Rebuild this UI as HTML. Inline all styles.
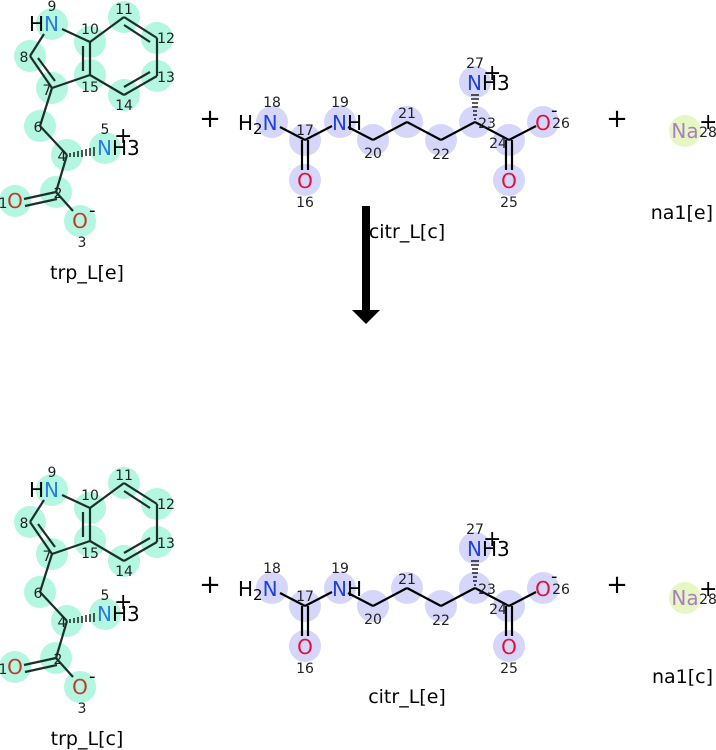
<!DOCTYPE html>
<html><head><meta charset="utf-8"><style>
html,body{margin:0;padding:0;background:#fff}
svg{display:block}
text{font-family:"DejaVu Sans","Liberation Sans",sans-serif}
.n{font-size:14px;fill:#222;text-anchor:middle}
.a{font-size:20px;text-anchor:middle}
.lb{font-size:19px;fill:#000;text-anchor:middle}
.pl{font-size:26px;fill:#000;text-anchor:middle}
.b{stroke:#1a3028;stroke-width:2.2;fill:none}
.c{stroke:#000;stroke-width:2.2;fill:none}
.t{fill:#b3f7e0}
.p{fill:#d6d6fa}
</style></head><body>
<svg width="716" height="750" viewBox="0 0 716 750" xmlns="http://www.w3.org/2000/svg">

<g>
<g class="t">
<circle cx="52" cy="24" r="16"/><circle cx="90" cy="42" r="16"/><circle cx="124" cy="17" r="16"/><circle cx="157" cy="38" r="16"/><circle cx="157" cy="76" r="16"/><circle cx="124" cy="95" r="16"/><circle cx="90" cy="75" r="16"/><circle cx="52" cy="88" r="16"/><circle cx="30" cy="56" r="16"/><circle cx="40" cy="126" r="16"/><circle cx="67" cy="155" r="16"/><circle cx="105" cy="148" r="16"/><circle cx="56" cy="192" r="16"/><circle cx="15" cy="201" r="16"/><circle cx="80" cy="221" r="16"/>
</g>
<g class="b">
<line x1="44" y1="34" x2="30" y2="56"/>
<line x1="62" y1="29" x2="90" y2="42"/>
<line x1="90" y1="42" x2="90" y2="75"/><line x1="83" y1="46" x2="83" y2="71"/>
<line x1="90" y1="75" x2="52" y2="88"/>
<line x1="30" y1="56" x2="52" y2="88"/><line x1="38" y1="58" x2="55" y2="81"/>
<line x1="90" y1="42" x2="124" y2="17"/>
<line x1="124" y1="17" x2="157" y2="38"/><line x1="124" y1="25" x2="150" y2="42"/>
<line x1="157" y1="38" x2="157" y2="76"/>
<line x1="157" y1="76" x2="124" y2="95"/><line x1="150" y1="72" x2="124" y2="87"/>
<line x1="124" y1="95" x2="90" y2="75"/>
<line x1="52" y1="88" x2="40" y2="126"/>
<line x1="40" y1="126" x2="67" y2="155"/>
<line x1="67" y1="155" x2="56" y2="192"/>
<line x1="56" y1="192" x2="24" y2="199"/><line x1="57" y1="199" x2="25" y2="206"/>
<line x1="56" y1="192" x2="73" y2="211"/>
</g>
<g stroke="#000" stroke-width="1.3">
<line x1="70" y1="153" x2="70" y2="157"/><line x1="74" y1="152" x2="74" y2="157"/><line x1="78" y1="151" x2="78" y2="157"/><line x1="82" y1="150" x2="82" y2="157"/><line x1="86" y1="149" x2="86" y2="156"/><line x1="90" y1="148" x2="90" y2="156"/><line x1="94" y1="147" x2="94" y2="156"/>
</g>
<text x="29" y="31" font-size="20"><tspan fill="#000">H</tspan><tspan fill="#2a7de0">N</tspan></text>
<text x="97" y="155" font-size="20" fill="#2a7de0">N<tspan fill="#000">H3</tspan></text>
<text x="114" y="143" font-size="22">+</text>
<text x="15" y="208" class="a" fill="#c0392b">O</text>
<text x="80" y="228" class="a" fill="#c0392b">O</text>
<text x="89" y="216" font-size="18">-</text>
<g class="n">
<text x="52" y="11">9</text><text x="90" y="34">10</text><text x="124" y="14">11</text><text x="166" y="43">12</text><text x="166" y="82">13</text><text x="124" y="110">14</text><text x="90" y="92">15</text><text x="47" y="95">7</text><text x="24" y="62">8</text><text x="38" y="132">6</text><text x="62" y="161">4</text><text x="105" y="134">5</text><text x="58" y="198">2</text><text x="3" y="208">1</text><text x="82" y="247">3</text>
</g>
</g>

<g>
<g class="p">
<circle cx="272" cy="122" r="16"/><circle cx="305" cy="140" r="16"/><circle cx="305" cy="180" r="16"/><circle cx="340" cy="122" r="16"/><circle cx="373" cy="140" r="16"/><circle cx="407" cy="122" r="16"/><circle cx="441" cy="140" r="16"/><circle cx="475" cy="122" r="16"/><circle cx="475" cy="82" r="16"/><circle cx="509" cy="140" r="16"/><circle cx="509" cy="180" r="16"/><circle cx="543" cy="122" r="16"/>
</g>
<g class="c">
<line x1="280" y1="127" x2="305" y2="140"/><line x1="305" y1="140" x2="332" y2="126"/>
<line x1="302" y1="140" x2="302" y2="170"/><line x1="308" y1="140" x2="308" y2="170"/>
<line x1="348" y1="127" x2="373" y2="140"/><line x1="373" y1="140" x2="407" y2="122"/><line x1="407" y1="122" x2="441" y2="140"/><line x1="441" y1="140" x2="475" y2="122"/><line x1="475" y1="122" x2="509" y2="140"/>
<line x1="506" y1="140" x2="506" y2="170"/><line x1="512" y1="140" x2="512" y2="170"/>
<line x1="509" y1="140" x2="536" y2="126"/>
</g>
<g stroke="#000" stroke-width="1.3">
<line x1="474" y1="119" x2="476" y2="119"/><line x1="473" y1="115" x2="477" y2="115"/><line x1="473" y1="111" x2="477" y2="111"/><line x1="472" y1="107" x2="478" y2="107"/><line x1="472" y1="103" x2="478" y2="103"/><line x1="471" y1="99" x2="479" y2="99"/><line x1="471" y1="95" x2="479" y2="95"/>
</g>
<text x="238" y="130" font-size="20">H<tspan font-size="15" dy="4">2</tspan><tspan fill="#2040e0" dy="-4">N</tspan></text>
<text x="332" y="130" font-size="20"><tspan fill="#2040e0">N</tspan>H</text>
<text x="467" y="90" font-size="20"><tspan fill="#2040e0">N</tspan>H3</text>
<text x="483" y="80" font-size="22">+</text>
<text x="305" y="188" class="a" fill="#e0103a">O</text>
<text x="509" y="188" class="a" fill="#e0103a">O</text>
<text x="543" y="130" class="a" fill="#e0103a">O</text>
<text x="551" y="116" font-size="18">-</text>
<g class="n">
<text x="272" y="107">18</text><text x="305" y="135">17</text><text x="305" y="207">16</text><text x="340" y="107">19</text><text x="373" y="158">20</text><text x="407" y="118">21</text><text x="441" y="159">22</text><text x="487" y="128">23</text><text x="498" y="148">24</text><text x="509" y="207">25</text><text x="561" y="128">26</text><text x="475" y="68">27</text>
</g>
</g>

<circle cx="685" cy="131" r="16" fill="#e6f7c4"/>
<text x="685" y="138" class="a" fill="#a97fbf">Na</text>
<text x="708" y="137" class="n">28</text>
<text x="699" y="129" font-size="22">+</text>

<text x="210" y="127" class="pl">+</text>
<text x="617" y="127" class="pl">+</text>
<text x="87" y="279" class="lb">trp_L[e]</text>
<text x="407" y="238" class="lb">citr_L[c]</text>
<text x="713" y="219" class="lb" style="text-anchor:end">na1[e]</text>

<rect x="362" y="206" width="8" height="106" fill="#000"/>
<polygon points="352,310 380,310 366,324" fill="#000"/>

<g transform="translate(0,466)">
<g class="t">
<circle cx="52" cy="24" r="16"/><circle cx="90" cy="42" r="16"/><circle cx="124" cy="17" r="16"/><circle cx="157" cy="38" r="16"/><circle cx="157" cy="76" r="16"/><circle cx="124" cy="95" r="16"/><circle cx="90" cy="75" r="16"/><circle cx="52" cy="88" r="16"/><circle cx="30" cy="56" r="16"/><circle cx="40" cy="126" r="16"/><circle cx="67" cy="155" r="16"/><circle cx="105" cy="148" r="16"/><circle cx="56" cy="192" r="16"/><circle cx="15" cy="201" r="16"/><circle cx="80" cy="221" r="16"/>
</g>
<g class="b">
<line x1="44" y1="34" x2="30" y2="56"/>
<line x1="62" y1="29" x2="90" y2="42"/>
<line x1="90" y1="42" x2="90" y2="75"/><line x1="83" y1="46" x2="83" y2="71"/>
<line x1="90" y1="75" x2="52" y2="88"/>
<line x1="30" y1="56" x2="52" y2="88"/><line x1="38" y1="58" x2="55" y2="81"/>
<line x1="90" y1="42" x2="124" y2="17"/>
<line x1="124" y1="17" x2="157" y2="38"/><line x1="124" y1="25" x2="150" y2="42"/>
<line x1="157" y1="38" x2="157" y2="76"/>
<line x1="157" y1="76" x2="124" y2="95"/><line x1="150" y1="72" x2="124" y2="87"/>
<line x1="124" y1="95" x2="90" y2="75"/>
<line x1="52" y1="88" x2="40" y2="126"/>
<line x1="40" y1="126" x2="67" y2="155"/>
<line x1="67" y1="155" x2="56" y2="192"/>
<line x1="56" y1="192" x2="24" y2="199"/><line x1="57" y1="199" x2="25" y2="206"/>
<line x1="56" y1="192" x2="73" y2="211"/>
</g>
<g stroke="#000" stroke-width="1.3">
<line x1="70" y1="153" x2="70" y2="157"/><line x1="74" y1="152" x2="74" y2="157"/><line x1="78" y1="151" x2="78" y2="157"/><line x1="82" y1="150" x2="82" y2="157"/><line x1="86" y1="149" x2="86" y2="156"/><line x1="90" y1="148" x2="90" y2="156"/><line x1="94" y1="147" x2="94" y2="156"/>
</g>
<text x="29" y="31" font-size="20"><tspan fill="#000">H</tspan><tspan fill="#2a7de0">N</tspan></text>
<text x="97" y="155" font-size="20" fill="#2a7de0">N<tspan fill="#000">H3</tspan></text>
<text x="114" y="143" font-size="22">+</text>
<text x="15" y="208" class="a" fill="#c0392b">O</text>
<text x="80" y="228" class="a" fill="#c0392b">O</text>
<text x="89" y="216" font-size="18">-</text>
<g class="n">
<text x="52" y="11">9</text><text x="90" y="34">10</text><text x="124" y="14">11</text><text x="166" y="43">12</text><text x="166" y="82">13</text><text x="124" y="110">14</text><text x="90" y="92">15</text><text x="47" y="95">7</text><text x="24" y="62">8</text><text x="38" y="132">6</text><text x="62" y="161">4</text><text x="105" y="134">5</text><text x="58" y="198">2</text><text x="3" y="208">1</text><text x="82" y="247">3</text>
</g>

<g class="p">
<circle cx="272" cy="122" r="16"/><circle cx="305" cy="140" r="16"/><circle cx="305" cy="180" r="16"/><circle cx="340" cy="122" r="16"/><circle cx="373" cy="140" r="16"/><circle cx="407" cy="122" r="16"/><circle cx="441" cy="140" r="16"/><circle cx="475" cy="122" r="16"/><circle cx="475" cy="82" r="16"/><circle cx="509" cy="140" r="16"/><circle cx="509" cy="180" r="16"/><circle cx="543" cy="122" r="16"/>
</g>
<g class="c">
<line x1="280" y1="127" x2="305" y2="140"/><line x1="305" y1="140" x2="332" y2="126"/>
<line x1="302" y1="140" x2="302" y2="170"/><line x1="308" y1="140" x2="308" y2="170"/>
<line x1="348" y1="127" x2="373" y2="140"/><line x1="373" y1="140" x2="407" y2="122"/><line x1="407" y1="122" x2="441" y2="140"/><line x1="441" y1="140" x2="475" y2="122"/><line x1="475" y1="122" x2="509" y2="140"/>
<line x1="506" y1="140" x2="506" y2="170"/><line x1="512" y1="140" x2="512" y2="170"/>
<line x1="509" y1="140" x2="536" y2="126"/>
</g>
<g stroke="#000" stroke-width="1.3">
<line x1="474" y1="119" x2="476" y2="119"/><line x1="473" y1="115" x2="477" y2="115"/><line x1="473" y1="111" x2="477" y2="111"/><line x1="472" y1="107" x2="478" y2="107"/><line x1="472" y1="103" x2="478" y2="103"/><line x1="471" y1="99" x2="479" y2="99"/><line x1="471" y1="95" x2="479" y2="95"/>
</g>
<text x="238" y="130" font-size="20">H<tspan font-size="15" dy="4">2</tspan><tspan fill="#2040e0" dy="-4">N</tspan></text>
<text x="332" y="130" font-size="20"><tspan fill="#2040e0">N</tspan>H</text>
<text x="467" y="90" font-size="20"><tspan fill="#2040e0">N</tspan>H3</text>
<text x="483" y="80" font-size="22">+</text>
<text x="305" y="188" class="a" fill="#e0103a">O</text>
<text x="509" y="188" class="a" fill="#e0103a">O</text>
<text x="543" y="130" class="a" fill="#e0103a">O</text>
<text x="551" y="116" font-size="18">-</text>
<g class="n">
<text x="272" y="107">18</text><text x="305" y="135">17</text><text x="305" y="207">16</text><text x="340" y="107">19</text><text x="373" y="158">20</text><text x="407" y="118">21</text><text x="441" y="159">22</text><text x="487" y="128">23</text><text x="498" y="148">24</text><text x="509" y="207">25</text><text x="561" y="128">26</text><text x="475" y="68">27</text>
</g>

<circle cx="685" cy="132" r="16" fill="#e6f7c4"/>
<text x="685" y="139" class="a" fill="#a97fbf">Na</text>
<text x="708" y="138" class="n">28</text>
<text x="699" y="130" font-size="22">+</text>

<text x="210" y="127" class="pl">+</text>
<text x="617" y="127" class="pl">+</text>
<text x="87" y="279" class="lb">trp_L[c]</text>
<text x="407" y="237" class="lb">citr_L[e]</text>
<text x="713" y="217" class="lb" style="text-anchor:end">na1[c]</text>
</g>
</svg>
</body></html>
